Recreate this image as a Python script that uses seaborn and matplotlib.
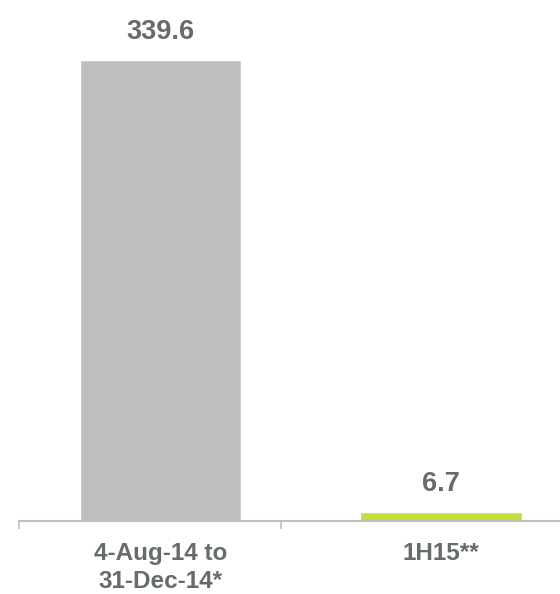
import matplotlib
matplotlib.use("Agg")
import matplotlib.pyplot as plt
import seaborn as sns

categories = ["4-Aug-14 to\n31-Dec-14*", "1H15**"]
values = [339.6, 6.7]
value_labels = ["339.6", "6.7"]
bar_colors = ["#BFBFBF", "#C5DC3B"]

sns.set_theme(style="white")
plt.rcParams["font.family"] = ["Liberation Sans", "DejaVu Sans"]

fig = plt.figure(figsize=(5.6, 5.94), dpi=100)
ax = fig.add_axes([19 / 560, 73 / 594, 1 - 19 / 560, 1 - 73 / 594])

sns.barplot(x=categories, y=values, hue=categories, palette=bar_colors,
            width=0.574, legend=False, saturation=1, ax=ax)

text_color = "#666B6B"
for i, (v, lab) in enumerate(zip(values, value_labels)):
    ax.annotate(lab, (i, v), xytext=(0, 11), textcoords="offset points",
                ha="center", va="bottom", fontsize=19.5, fontweight="bold",
                color=text_color)

ax.set_ylim(0, 339.6 * 521 / 461)
ax.set_xlim(-0.504, 1.424)
ax.set_yticks([])
ax.set_xticks([0, 1])
ax.set_xticklabels(categories, fontsize=17.5, fontweight="bold",
                   color=text_color, linespacing=1.3)
ax.tick_params(axis="x", which="major", length=0, pad=15)
ax.set_xticks([-0.504, 0.43], minor=True)
ax.tick_params(axis="x", which="minor", length=6, width=1.2,
               color="#BFBFBF", direction="out", bottom=True)

for side in ["top", "right", "left"]:
    ax.spines[side].set_visible(False)
ax.spines["bottom"].set_color("#BFBFBF")
ax.spines["bottom"].set_linewidth(1.5)
ax.set_xlabel("")
ax.set_ylabel("")

fig.savefig("out.png", dpi=100)
